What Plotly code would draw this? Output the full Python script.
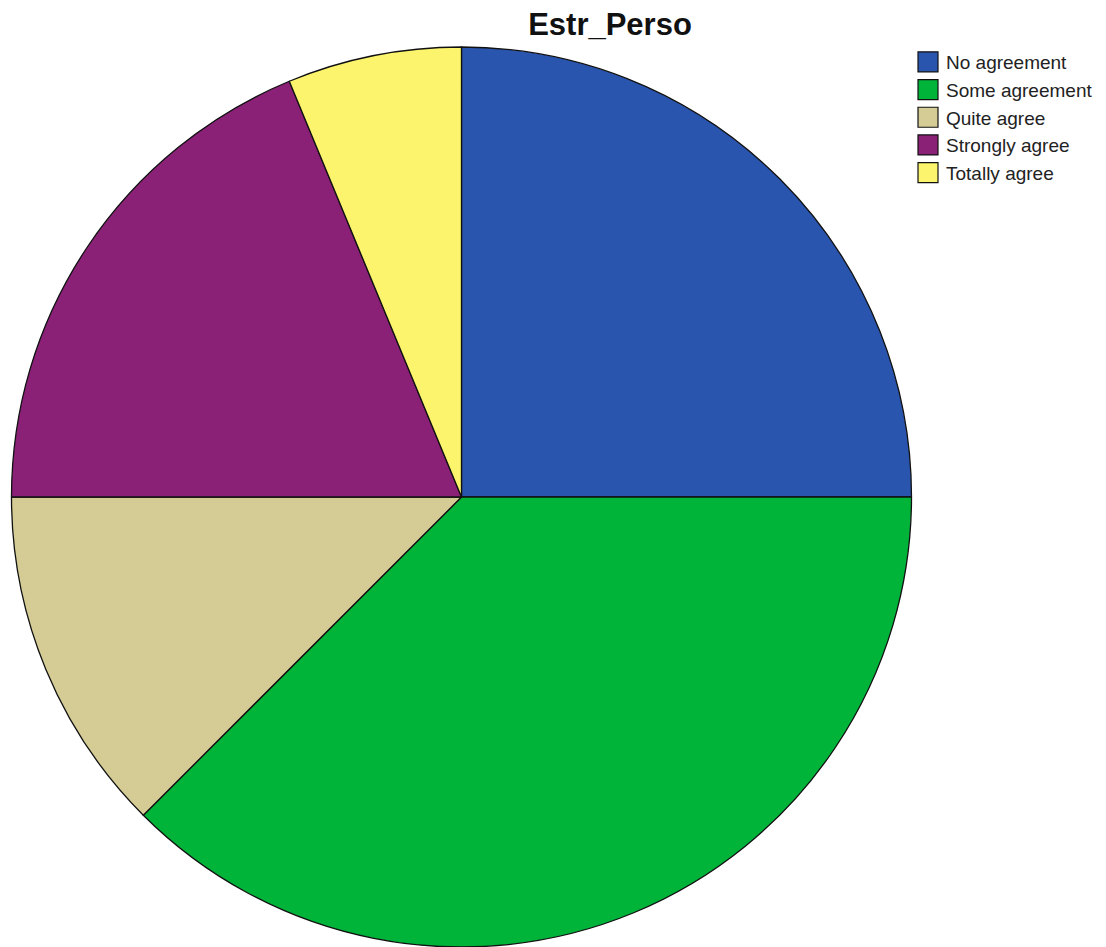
import plotly.graph_objects as go

categories = ["No agreement", "Some agreement", "Quite agree", "Strongly agree", "Totally agree"]
counts = [4, 6, 2, 3, 1]
colors = ["#2A55AE", "#00B43A", "#D4CC94", "#8A2177", "#FBF46C"]
title_text = "Estr_Perso"

W, H = 1106, 947

fig = go.Figure(
    go.Pie(
        labels=categories,
        values=counts,
        sort=False,
        direction="clockwise",
        rotation=0,
        textinfo="none",
        marker=dict(colors=colors, line=dict(color="#111111", width=1.3)),
        domain=dict(x=[11 / W, 912 / W], y=[0, 1 - 47 / H]),
    )
)

fig.update_layout(
    width=W,
    height=H,
    margin=dict(l=0, r=0, t=0, b=0),
    paper_bgcolor="white",
    plot_bgcolor="white",
    title=dict(
        text=title_text,
        x=610 / W,
        xanchor="center",
        y=1 - 24 / H,
        yanchor="middle",
        font=dict(family="Arial, Liberation Sans, sans-serif", size=31, color="#111111", weight="bold"),
    ),
    legend=dict(
        x=906 / W,
        xanchor="left",
        y=1 - 43 / H,
        yanchor="top",
        font=dict(family="Arial, Liberation Sans, sans-serif", size=19, color="#222222"),
        bgcolor="rgba(0,0,0,0)",
        borderwidth=0,
        traceorder="normal",
    ),
    showlegend=True,
)

post = """
document.body.style.margin = '0px';
document.querySelectorAll('.legendpoints path').forEach(function(p){
  p.setAttribute('d', 'M12,10H-8V-10H12Z');
  p.style.strokeWidth = '1.2px';
});
"""

fig.write_html("out.html", post_script=post, config={"displayModeBar": False})
